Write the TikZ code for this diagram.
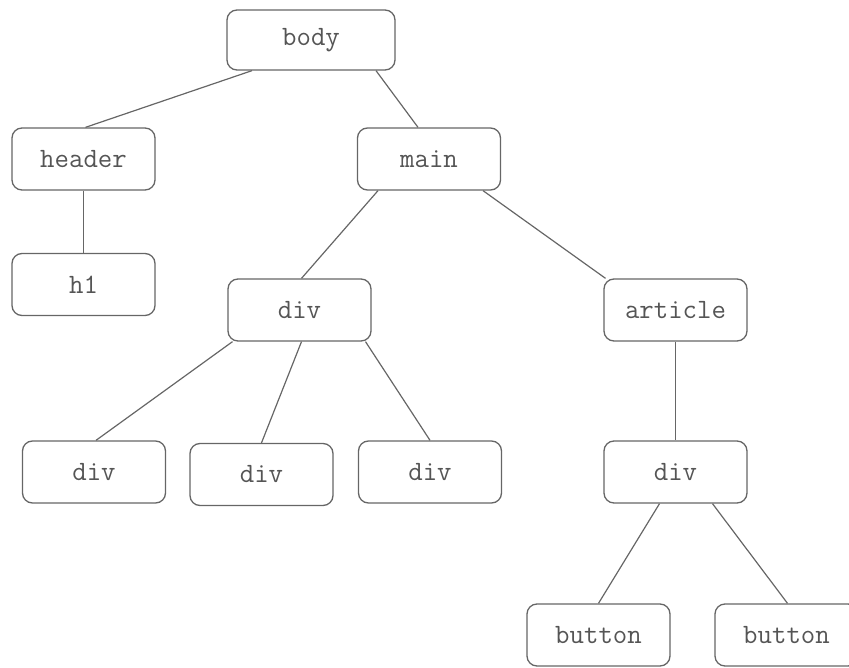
\documentclass[tikz,border=0pt]{standalone}
\definecolor{linegray}{HTML}{666666}
\definecolor{textgray}{HTML}{555555}
\begin{document}
\begin{tikzpicture}[x=1pt,y=-1pt,
  box/.style={draw=linegray, line width=1.3pt, rounded corners=10pt,
    minimum width=143pt, minimum height=62pt, inner sep=0pt,
    font=\ttfamily\fontsize{28}{28}\selectfont, text=textgray},
  edge/.style={draw=linegray, line width=1.2pt}]
\useasboundingbox (0,0) rectangle (849,668);
\node[box, minimum width=168pt, minimum height=60pt] (body) at (311,40) {body};
\node[box] (header) at (83.5,159) {header};
\node[box] (main) at (429,159) {main};
\node[box] (h1) at (83.5,284.5) {h1};
\node[box] (div) at (299.5,310) {div};
\node[box] (article) at (675.5,310) {article};
\node[box] (div1) at (94,472) {div};
\node[box] (div2) at (261.5,474.5) {div};
\node[box] (div3) at (430,472) {div};
\node[box] (div4) at (675.5,472) {div};
\node[box] (button1) at (598.5,635) {button};
\node[box] (button2) at (786.5,635) {button};
\draw[edge] ([xshift=-59pt]body.south) -- ([xshift=2pt]header.north);
\draw[edge] ([xshift=65pt]body.south) -- ([xshift=-11pt]main.north);
\draw[edge] (header.south) -- (h1.north);
\draw[edge] ([xshift=-51pt]main.south) -- ([xshift=2pt]div.north);
\draw[edge] ([xshift=54pt]main.south) -- ([xshift=-70pt]article.north);
\draw[edge] ([xshift=-67pt]div.south) -- ([xshift=2pt]div1.north);
\draw[edge] ([xshift=2pt]div.south) -- (div2.north);
\draw[edge] ([xshift=66pt]div.south) -- (div3.north);
\draw[edge] (article.south) -- (div4.north);
\draw[edge] ([xshift=-16pt]div4.south) -- (button1.north);
\draw[edge] ([xshift=37pt]div4.south) -- ([xshift=1pt]button2.north);
\end{tikzpicture}
\end{document}
